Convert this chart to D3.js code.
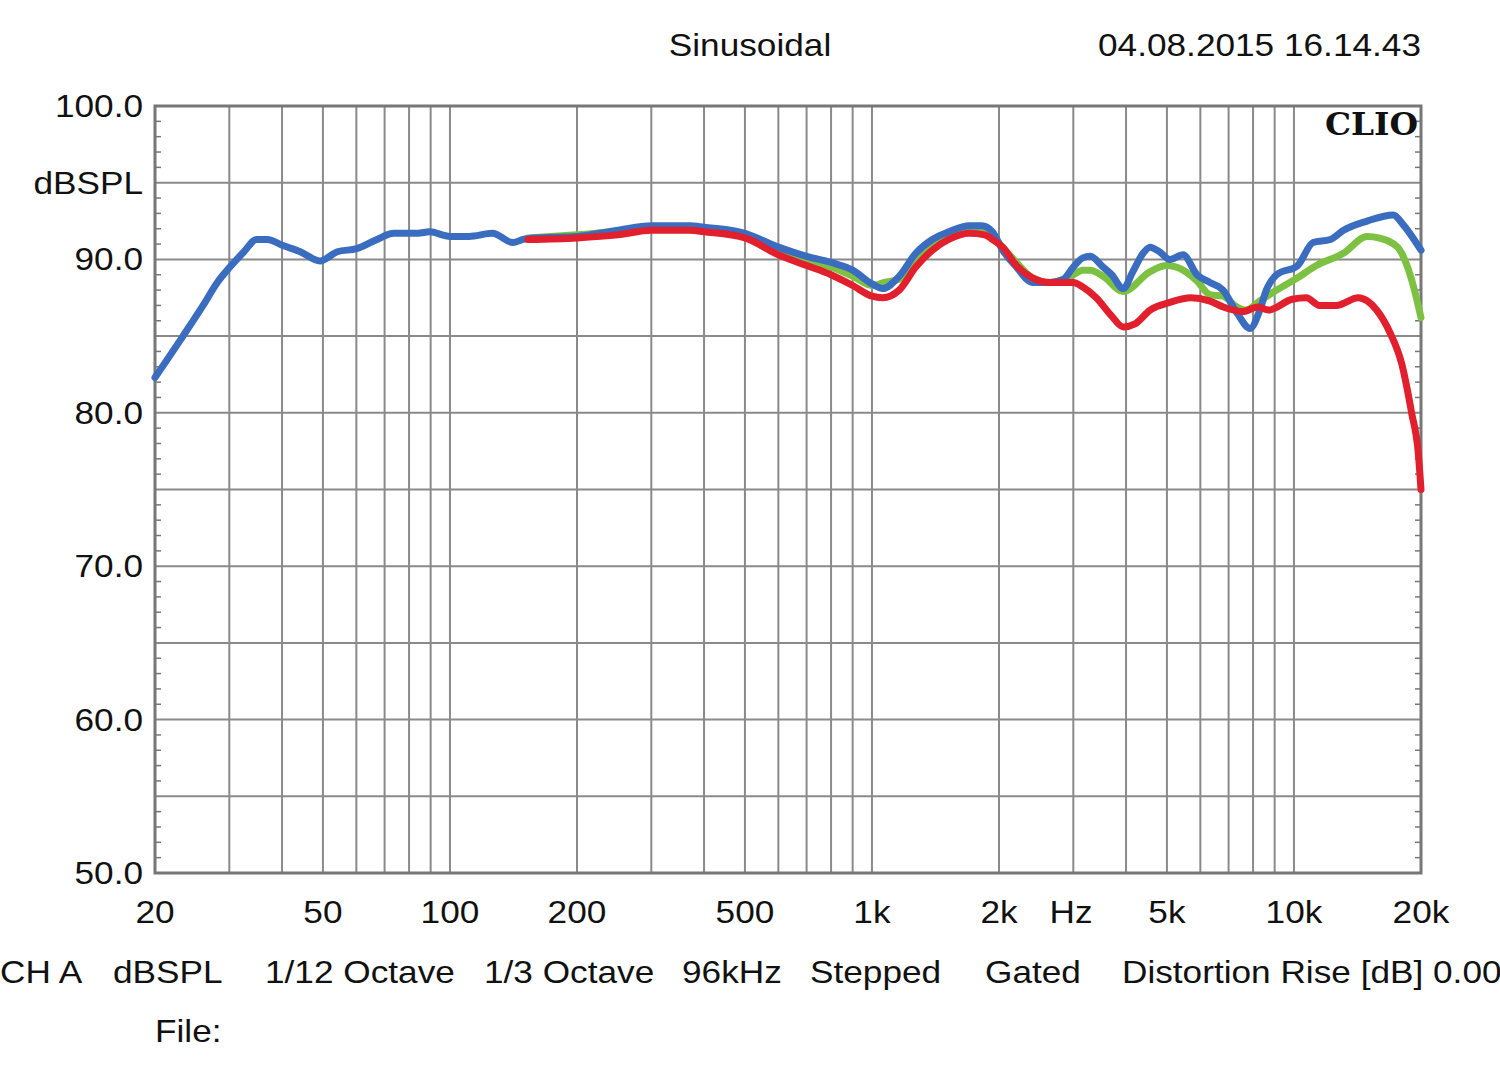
<!DOCTYPE html>
<html>
<head>
<meta charset="utf-8">
<script src="https://cdn.jsdelivr.net/npm/d3@7"></script>
<style>
  html, body { margin: 0; padding: 0; background: #fff; }
  svg { display: block; }
  text { font-family: "Liberation Sans", Arial, sans-serif; fill: #111; }
</style>
</head>
<body>
<svg id="chart" width="1500" height="1074"></svg>
<script>
// ---------- DATA ----------
const blueFreq = [20, 23.3, 26, 28.1, 30.1, 32.5, 34.8, 36.9, 40.2, 44.2, 49.2, 54.1, 60.1, 67.2, 73.6, 83.9, 89.5, 100, 111, 126, 141, 149, 160, 200, 250, 300, 370, 400, 500, 600, 700, 800, 900, 1000, 1060, 1160, 1270, 1390, 1520, 1700, 1820, 1930, 2040, 2200, 2400, 2640, 2840, 3000, 3160, 3290, 3530, 3700, 3940, 4150, 4390, 4560, 4800, 5080, 5460, 5890, 6320, 6790, 7330, 7870, 8300, 8600, 9100, 10200, 11100, 12200, 13100, 14900, 17200, 18100, 20000];
const blueDb   = [82.3, 85.0, 87.0, 88.5, 89.5, 90.5, 91.3, 91.3, 90.9, 90.5, 89.9, 90.5, 90.7, 91.3, 91.7, 91.7, 91.8, 91.5, 91.5, 91.7, 91.1, 91.3, 91.4, 91.5, 91.9, 92.2, 92.2, 92.1, 91.7, 90.8, 90.2, 89.8, 89.3, 88.4, 88.1, 88.9, 90.4, 91.3, 91.8, 92.2, 92.2, 91.8, 90.6, 89.5, 88.5, 88.5, 88.7, 89.5, 90.1, 90.2, 89.5, 89.0, 88.1, 89.2, 90.4, 90.8, 90.5, 90.0, 90.3, 89.0, 88.5, 88.0, 86.5, 85.5, 86.7, 88.0, 89.0, 89.6, 91.1, 91.3, 91.9, 92.5, 92.9, 92.3, 90.6];

const greenFreq = [153, 200, 300, 400, 500, 600, 700, 800, 900, 1000, 1070, 1160, 1270, 1390, 1520, 1700, 1850, 1950, 2040, 2200, 2400, 2650, 2840, 3000, 3160, 3290, 3530, 3940, 4560, 4990, 5460, 5890, 6320, 6790, 7330, 7700, 8300, 9100, 10200, 11300, 13100, 14900, 15900, 17600, 18000, 19300, 20000];
const greenDb   = [91.4, 91.6, 92.0, 91.9, 91.6, 90.6, 90.0, 89.5, 88.9, 88.3, 88.5, 88.7, 90.1, 91.1, 91.6, 92.0, 91.9, 91.4, 90.8, 89.8, 88.8, 88.5, 88.7, 89.0, 89.3, 89.3, 88.9, 87.9, 89.2, 89.6, 89.3, 88.6, 87.7, 87.6, 86.9, 86.7, 87.3, 88.0, 88.8, 89.6, 90.4, 91.5, 91.4, 90.8, 90.4, 88.0, 86.2];

const redFreq = [153, 200, 250, 300, 370, 400, 500, 600, 700, 800, 900, 1000, 1060, 1160, 1270, 1390, 1520, 1700, 1850, 1930, 2040, 2200, 2400, 2640, 3000, 3160, 3400, 3700, 3940, 4200, 4560, 5080, 5700, 6300, 6800, 7570, 8200, 8700, 9900, 10700, 11500, 12600, 14200, 14900, 15700, 16900, 18000, 19000, 19700, 20000];
const redDb   = [91.3, 91.4, 91.6, 91.9, 91.9, 91.8, 91.4, 90.3, 89.6, 89.0, 88.3, 87.6, 87.5, 88.0, 89.5, 90.6, 91.3, 91.7, 91.6, 91.3, 90.8, 89.6, 88.8, 88.5, 88.5, 88.2, 87.5, 86.3, 85.6, 85.8, 86.7, 87.2, 87.5, 87.3, 86.9, 86.6, 86.9, 86.7, 87.4, 87.5, 87.0, 87.0, 87.5, 87.3, 86.7, 85.2, 83.2, 80.0, 77.4, 75.0];

const xGridValues = [20, 30, 40, 50, 60, 70, 80, 90, 100, 200, 300, 400, 500, 600, 700, 800, 900, 1000, 2000, 3000, 4000, 5000, 6000, 7000, 8000, 9000, 10000, 20000];
const xTickValues = [20, 50, 100, 200, 500, 1000, 2000, 5000, 10000, 20000];
const xTickLabels = ["20", "50", "100", "200", "500", "1k", "2k", "5k", "10k", "20k"];
const yGridValues = [50, 55, 60, 65, 70, 75, 80, 85, 90, 95, 100];
const yTickValues = [50, 60, 70, 80, 90, 100];
const yTickLabels = ["50.0", "60.0", "70.0", "80.0", "90.0", "100.0"];
const footerLabels = ["CH A", "dBSPL", "1/12 Octave", "1/3 Octave", "96kHz", "Stepped", "Gated", "Distortion Rise [dB] 0.00"];

// ---------- CHART ----------
const svg = d3.select("#chart");
const L = 155, R = 1421, T = 106, B = 873;
const FS = 32, WIDEN = 1.1;
const x = d3.scaleLog().domain([20, 20000]).range([L, R]);
const y = d3.scaleLinear().domain([50, 100]).range([B, T]);

svg.append("rect").attr("width", 1500).attr("height", 1074).attr("fill", "#fff");

// grid
const grid = svg.append("g");
grid.selectAll("line.v").data(xGridValues).join("line")
  .attr("x1", d => x(d)).attr("x2", d => x(d))
  .attr("y1", T).attr("y2", B)
  .attr("stroke", "#8a8a8a").attr("stroke-width", 2);
grid.selectAll("line.h").data(yGridValues).join("line")
  .attr("x1", L).attr("x2", R)
  .attr("y1", d => y(d)).attr("y2", d => y(d))
  .attr("stroke", "#8a8a8a").attr("stroke-width", 2);

// minor ticks on left and right edges (1 dB)
const minor = d3.range(51, 100).filter(v => v % 5 !== 0);
grid.selectAll("line.ml").data(minor).join("line")
  .attr("x1", L).attr("x2", L + 6)
  .attr("y1", d => y(d)).attr("y2", d => y(d))
  .attr("stroke", "#777").attr("stroke-width", 1.5);
grid.selectAll("line.mr").data(minor).join("line")
  .attr("x1", R - 6).attr("x2", R)
  .attr("y1", d => y(d)).attr("y2", d => y(d))
  .attr("stroke", "#777").attr("stroke-width", 1.5);

// frame
svg.append("rect").attr("x", L).attr("y", T).attr("width", R - L).attr("height", B - T)
  .attr("fill", "none").attr("stroke", "#777").attr("stroke-width", 3);

// curves
const line = d3.line().x(d => x(d[0])).y(d => y(d[1])).curve(d3.curveMonotoneX);
const series = [
  { f: greenFreq, v: greenDb, c: "#7dc143" },
  { f: blueFreq, v: blueDb, c: "#3a6dbf" },
  { f: redFreq, v: redDb, c: "#e21f2c" }
];
series.forEach(s => {
  svg.append("path")
    .datum(s.f.map((f, i) => [f, s.v[i]]))
    .attr("d", line)
    .attr("fill", "none")
    .attr("stroke", s.c)
    .attr("stroke-width", 7)
    .attr("stroke-linejoin", "round")
    .attr("stroke-linecap", "round");
});

const labels = svg.append("g").attr("class", "labels");

// y labels
labels.selectAll("text.yl").data(yTickValues).join("text")
  .attr("x", 143).attr("y", d => y(d) + 11)
  .attr("text-anchor", "end").attr("font-size", FS)
  .text((d, i) => yTickLabels[i]);
labels.append("text").attr("x", 143).attr("y", y(95) + 11)
  .attr("text-anchor", "end").attr("font-size", FS).text("dBSPL");

// x labels
labels.selectAll("text.xl").data(xTickValues).join("text")
  .attr("x", d => x(d)).attr("y", 923)
  .attr("text-anchor", "middle").attr("font-size", FS)
  .text((d, i) => xTickLabels[i]);
labels.append("text").attr("x", 1071).attr("y", 923)
  .attr("text-anchor", "middle").attr("font-size", FS).text("Hz");

// header
labels.append("text").attr("x", 750).attr("y", 56)
  .attr("text-anchor", "middle").attr("font-size", FS).text("Sinusoidal");
labels.append("text").attr("x", 1421).attr("y", 56)
  .attr("text-anchor", "end").attr("font-size", FS).text("04.08.2015 16.14.43");

// footer
const footerX = [0, 113, 265, 484, 682, 810, 985, 1122];
labels.selectAll("text.ft").data(footerLabels).join("text")
  .attr("x", (d, i) => footerX[i]).attr("y", 983).attr("font-size", FS)
  .text(d => d);
labels.append("text").attr("x", 155).attr("y", 1042).attr("font-size", FS).text("File:");

// widen glyphs slightly to match the reference's wide sans font
labels.selectAll("text").each(function () {
  const len = this.getComputedTextLength();
  d3.select(this).attr("textLength", len * WIDEN).attr("lengthAdjust", "spacingAndGlyphs");
});

// CLIO logo
svg.append("text").attr("x", 1418).attr("y", 135)
  .attr("text-anchor", "end").attr("font-size", 32).attr("font-weight", "bold")
  .style("font-family", "'DejaVu Serif', 'Liberation Serif', serif")
  .attr("textLength", 93).attr("lengthAdjust", "spacingAndGlyphs")
  .text("CLIO");
</script>
</body>
</html>
